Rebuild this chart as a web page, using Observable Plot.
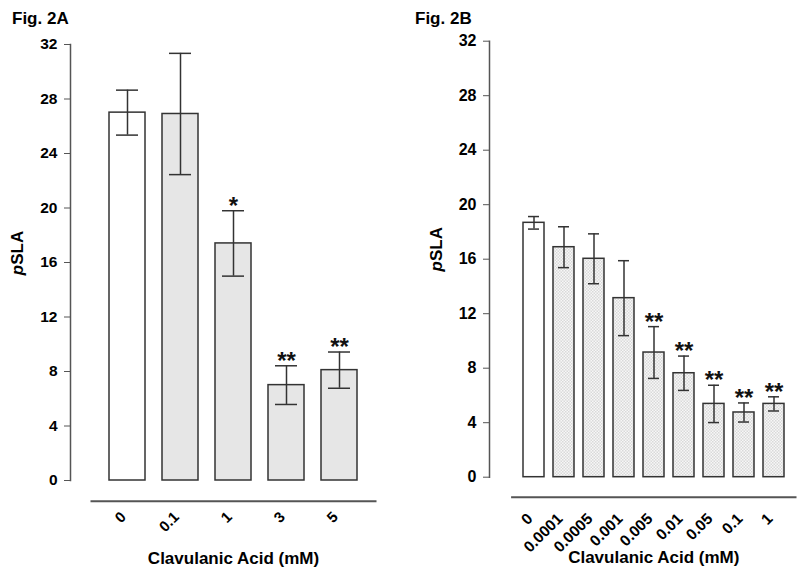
<!DOCTYPE html>
<html><head><meta charset="utf-8">
<script src="https://cdn.jsdelivr.net/npm/d3@7"></script>
<script src="https://cdn.jsdelivr.net/npm/@observablehq/plot@0.6"></script>
<style>
body{margin:0;background:#fff}
#wrap{position:relative;width:800px;height:575px;overflow:hidden}
.panel{position:absolute;top:0}
.fig{position:absolute;font:bold 17px/17px 'Liberation Sans', Arial, sans-serif;color:#000;white-space:nowrap;z-index:2}
</style>
</head><body><div id="wrap"></div>
<script>
// Fig. 2A
const concA = ["0", "0.1", "1", "3", "5"];
const meanA = [27.0, 26.9, 17.4, 7.0, 8.1];
const semA  = [1.65, 4.45, 2.4, 1.42, 1.33];
const sigA  = ["", "", "*", "**", "**"];
// Fig. 2B
const concB = ["0", "0.0001", "0.0005", "0.001", "0.005", "0.01", "0.05", "0.1", "1"];
const meanB = [18.67, 16.88, 16.03, 13.14, 9.15, 7.63, 5.38, 4.75, 5.38];
const semB  = [0.46, 1.5, 1.83, 2.75, 1.9, 1.26, 1.37, 0.7, 0.52];
const sigB  = ["", "", "", "", "**", "**", "**", "**", "**"];
const yTicks = [0, 4, 8, 12, 16, 20, 24, 28, 32];
const yLabel = "pSLA";
const xLabel = "Clavulanic Acid (mM)";

function panel(cfg) {
  const data = cfg.conc.map((c, i) => ({c, m: cfg.mean[i], s: cfg.sem[i], sig: cfg.sig[i], i}));
  const svg = Plot.plot({
    width: 400, height: 575,
    marginLeft: cfg.ml, marginRight: cfg.mr, marginTop: cfg.mt, marginBottom: cfg.mb,
    style: {fontFamily: "'Liberation Sans', Arial, sans-serif", fontWeight: "bold", background: "transparent", color: "black", overflow: "visible"},
    x: {domain: cfg.conc, padding: cfg.pad, label: null, axis: null},
    y: {domain: [0, 32], label: null, axis: null},
    color: {type: "identity"},
    marks: [
      Plot.barY(data, {x: "c", y: "m", fill: d => d.i === 0 ? "white" : cfg.fill, stroke: "#333", strokeWidth: 1.5}),
      Plot.ruleX(data, {x: "c", y1: d => d.m - d.s, y2: d => d.m + d.s, stroke: "#333", strokeWidth: 1.5}),
      Plot.tickY(data, {x: "c", y: d => d.m + d.s, inset: cfg.capInset, stroke: "#333", strokeWidth: 1.5}),
      Plot.tickY(data, {x: "c", y: d => d.m - d.s, inset: cfg.capInset, stroke: "#333", strokeWidth: 1.5}),
      Plot.text(data.filter(d => d.sig), {x: "c", y: d => d.m + d.s, text: "sig", lineAnchor: "bottom", dy: 3, fontSize: 24, fill: "#111"}),
      Plot.frame({anchor: "left", dx: cfg.yDx, stroke: "#555", strokeWidth: 1.5}),
      Plot.frame({anchor: "bottom", dy: cfg.xDy, stroke: "#555", strokeWidth: 2}),
      Plot.axisY({ticks: yTicks, tickSize: 6, tickPadding: 7, dx: cfg.yDx, fontSize: cfg.yFont, stroke: "#555", fill: "black"}),
      Plot.axisX({tickSize: 0, tickRotate: -45, tickPadding: cfg.xPad, dx: -4, fontSize: cfg.xFont, fill: "black"}),
      Plot.text([yLabel], {frameAnchor: "left", textAnchor: "middle", dx: cfg.ylDx, dy: cfg.ylDy, rotate: -90, fontSize: 17}),
      Plot.text([xLabel], {frameAnchor: "bottom", dy: cfg.xlDy, fontSize: 17})
    ]
  });
  // italic "p" in pSLA
  d3.select(svg).selectAll("text").each(function() {
    if (this.textContent === yLabel && this.childElementCount === 0) {
      const t = d3.select(this);
      t.text(null);
      t.append("tspan").attr("font-style", "italic").text("p");
      t.append("tspan").text("SLA");
    }
  });
  if (cfg.defs) {
    d3.select(svg).insert("defs", ":first-child").html(cfg.defs);
  }
  const wrap = document.getElementById("wrap");
  const div = document.createElement("div");
  div.className = "panel";
  div.style.left = cfg.left + "px";
  div.appendChild(svg);
  wrap.appendChild(div);
  const title = document.createElement("div");
  title.className = "fig";
  title.textContent = cfg.fig;
  title.style.left = cfg.tx + "px";
  title.style.top = cfg.ty + "px";
  wrap.appendChild(title);
}

panel({
  conc: concA, mean: meanA, sem: semA, sig: sigA, fig: "Fig. 2A", left: 0, tx: 12, ty: 10,
  ml: 91, mr: 25, mt: 44, mb: 95, pad: 0.325, capInset: 7,
  fill: "#e6e6e6", yDx: -21, xDy: 20.7, yFont: 15.5, xFont: 15, xPad: 34,
  ylDx: -74, ylDy: -9.5, xlDy: 83
});
panel({
  conc: concB, mean: meanB, sem: semB, sig: sigB, fig: "Fig. 2B", left: 400, tx: 415, ty: 10,
  ml: 111.6, mr: 5, mt: 40.7, mb: 98.3, pad: 0.31, capInset: 5,
  fill: "url(#hatchB)", yDx: -22.6, xDy: 20, yFont: 16, xFont: 15.5, xPad: 39,
  ylDx: -75.6, ylDy: -10, xlDy: 85.3,
  defs: '<pattern id="hatchB" width="3" height="3" patternUnits="userSpaceOnUse"><rect width="3" height="3" fill="#f7f7f7"/><rect width="1.5" height="1.5" fill="#d9d9d9"/><rect x="1.5" y="1.5" width="1.5" height="1.5" fill="#d9d9d9"/></pattern>'
});
</script>
</body></html>
